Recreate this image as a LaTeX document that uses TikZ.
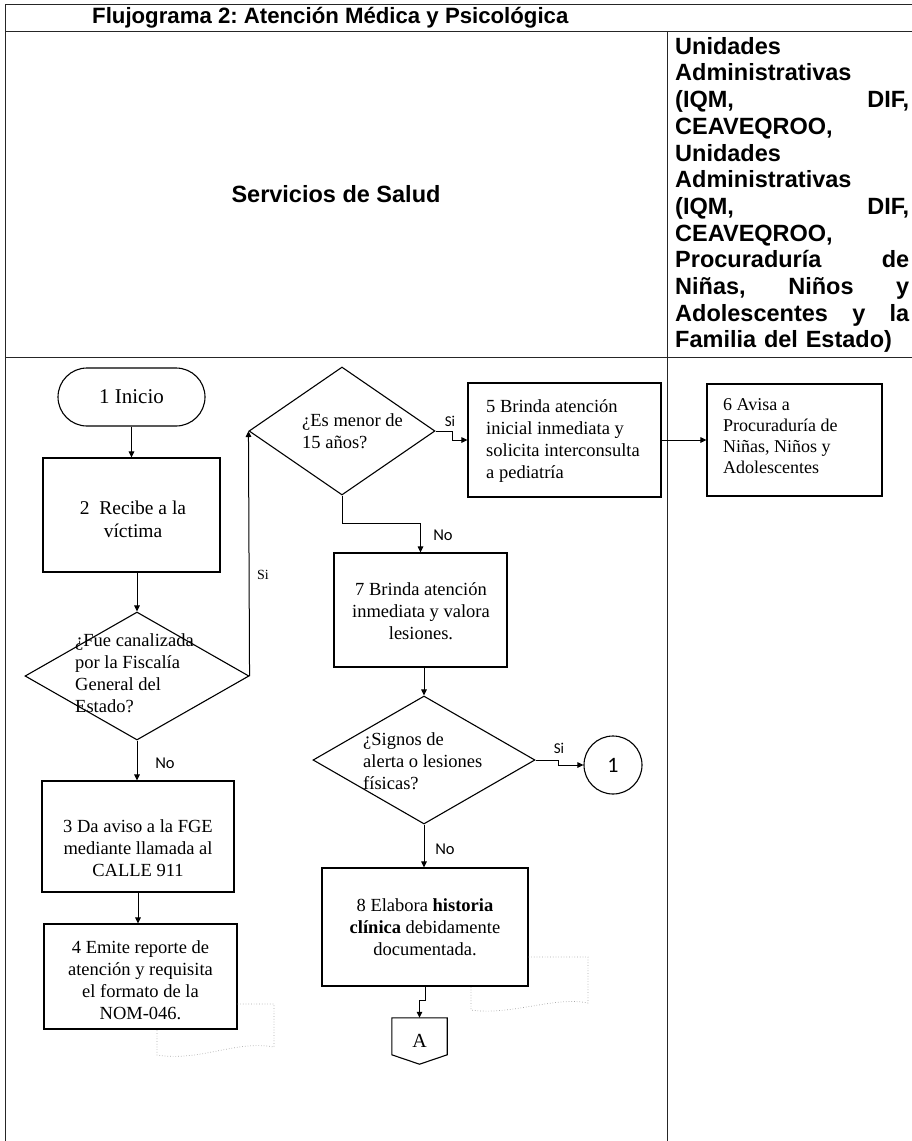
\documentclass[tikz,border=0pt]{standalone}
\usepackage{fontspec}
\setmainfont{Liberation Serif}
\newfontfamily\headfont{Liberation Sans}
\newfontfamily\labelfont{Carlito}
\usetikzlibrary{arrows.meta,shapes.geometric}
\frenchspacing
\begin{document}
\begin{tikzpicture}[x=1pt,y=-1pt,
  grid/.style={draw=black!85, line width=1pt},
  procbox/.style={draw, line width=1.1pt, inner sep=0pt},
  decision/.style={draw, diamond, line width=1.1pt, inner sep=0pt},
  boxtext/.style={font=\fontsize{18.5}{22}\selectfont, align=center, inner sep=0pt},
  lefttext/.style={font=\fontsize{18.5}{22}\selectfont, align=left, inner sep=0pt, anchor=west},
  flow/.style={line width=1pt, -{Triangle[length=6pt,width=5.5pt]}},
  yesno/.style={font=\labelfont\fontsize{16.5}{18}\selectfont, inner sep=0pt},
  serifyes/.style={font=\fontsize{14}{16}\selectfont, inner sep=0pt},
  ghost/.style={draw=black!35, dotted, line width=0.7pt},
  hdr/.style={font=\headfont\bfseries\fontsize{23.5}{26.7}\selectfont, inner sep=0pt}
]
\useasboundingbox (0,0) rectangle (912,1141);

% table frame
\draw[grid] (5,4) -- (912,4);
\draw[grid] (5,31) -- (912,31);
\draw[grid] (5,357) -- (912,357);
\draw[grid] (5,4) -- (5,1141);
\draw[grid] (667,31) -- (667,1141);

% headings
\node[hdr, font=\headfont\bfseries\fontsize{22.2}{24}\selectfont, anchor=west] (title) at (92,18) {Flujograma 2: Atención Médica y Psicológica};
\node[hdr] (salud) at (336,194) {Servicios de Salud};
\node[hdr, text width=234pt, align=left, anchor=north west] (unidades) at (675,37) {Unidades\\Administrativas\\(IQM,\hfill DIF,\\CEAVEQROO,\\Unidades\\Administrativas\\(IQM,\hfill DIF,\\CEAVEQROO,\\Procuraduría\hfill de\\Niñas,\hfill Niños\hfill y\\Adolescentes\hfill y\hfill la\\Familia del Estado)};

% process shapes
\node[procbox, rounded corners=29pt, minimum width=147pt, minimum height=58pt, font=\fontsize{21}{24}\selectfont] (ini) at (131.5,397) {1 Inicio};

\node[procbox, minimum width=177pt, minimum height=114pt] (b2) at (131.5,515) {};
\node[boxtext, font=\fontsize{19.5}{23}\selectfont] (b2t) at (133,519) {2\ \ Recibe a la\\víctima};

\node[decision, minimum width=224pt, minimum height=128pt] (d1) at (137,676) {};
\node[lefttext] (d1t) at (75,673) {¿Fue canalizada\\por la Fiscalía\\General del\\Estado?};

\node[procbox, minimum width=192pt, minimum height=111pt] (b3) at (138,836.5) {};
\node[boxtext] (b3t) at (138,848) {3 Da aviso a la FGE\\mediante llamada al\\CALLE 911};

\node[procbox, minimum width=193pt, minimum height=105pt] (b4) at (140.5,976.5) {};
\node[boxtext] (b4t) at (140.5,980) {4 Emite reporte de\\atención y requisita\\el formato de la\\NOM-046.};

\node[decision, minimum width=186pt, minimum height=128pt] (d2) at (342,431) {};
\node[lefttext] (d2t) at (302,431) {¿Es menor de\\15 años?};

\node[procbox, minimum width=193pt, minimum height=114pt] (b5) at (564.5,440) {};
\node[lefttext] (b5t) at (486,441) {5 Brinda atención\\inicial inmediata y\\solicita interconsulta\\a pediatría};

\node[procbox, minimum width=175pt, minimum height=112pt] (b6) at (794.5,440) {};
\node[lefttext, font=\fontsize{18}{21}\selectfont] (b6t) at (723,436) {6 Avisa a\\Procuraduría de\\Niñas, Niños y\\Adolescentes};

\node[procbox, minimum width=173pt, minimum height=114pt] (b7) at (420.5,610) {};
\node[boxtext] (b7t) at (421,611) {7 Brinda atención\\inmediata y valora\\lesiones.};

\node[decision, minimum width=222pt, minimum height=128pt] (d3) at (424,760) {};
\node[lefttext] (d3t) at (363,761) {¿Signos de\\alerta o lesiones\\físicas?};

\node[draw, circle, line width=1.1pt, minimum size=58pt, inner sep=0pt, font=\labelfont\fontsize{22}{24}\selectfont] (c1) at (613,765) {1};

\node[procbox, minimum width=206pt, minimum height=118pt] (b8) at (425,927) {};
\node[boxtext] (b8t) at (425,927) {8 Elabora \textbf{historia}\\\textbf{clínica} debidamente\\documentada.};

% off-page connector
\node[boxtext, font=\fontsize{20}{22}\selectfont, minimum width=55pt, minimum height=46pt] (pA) at (419.5,1041) {A};
\draw[line width=1.1pt] (pA.north west) -- (pA.north east) -- ([yshift=-37pt]pA.north east) -- (pA.south) -- ([yshift=-37pt]pA.north west) -- cycle;

% faint document outlines behind boxes 4 and 8
\draw[ghost] (b4.east |- 0,1004) -- (274,1004) -- (274,1047) .. controls (235,1040) and (200,1062) .. (157,1055) -- (157,1029);
\draw[ghost] (b8.east |- 0,957) -- (588,957) -- (588,1003) .. controls (555,996) and (510,1016) .. (471,1010) -- (471,987);

% connectors
\draw[flow] (ini.south) -- (ini.south |- b2.north);
\draw[flow] (d1.north |- b2.south) -- (d1.north);
\draw[flow] (d1.east) -- (d2.west);
\node[serifyes] (si1) at (263,575) {Si};
\draw[flow] (d1.south) -- (d1.south |- b3.north);
\node[yesno] (no1) at (165,763) {No};
\draw[flow] (b3.south) -- (b3.south |- b4.north);

\draw[flow] (d2.east) -- ++(17,0) |- (b5.west);
\node[yesno, font=\labelfont\fontsize{15}{17}\selectfont] (si2) at (450,421) {Si};
\draw[flow] (b5.east) -- (b6.west);
\draw[flow] (d2.south) -- ++(0,28) -| (b7.north);
\node[yesno] (no2) at (443,535) {No};

\draw[flow] (d3.north |- b7.south) -- (d3.north);
\draw[flow] (d3.east) -- ++(23,0) |- (c1.west);
\node[yesno, font=\labelfont\fontsize{15}{17}\selectfont] (si3) at (559,748) {Si};
\draw[flow] (d3.south) -- (d3.south |- b8.north);
\node[yesno] (no3) at (445,849) {No};
\draw[flow] (b8.south) -- ++(0,14) -| (pA.north);
\end{tikzpicture}
\end{document}
